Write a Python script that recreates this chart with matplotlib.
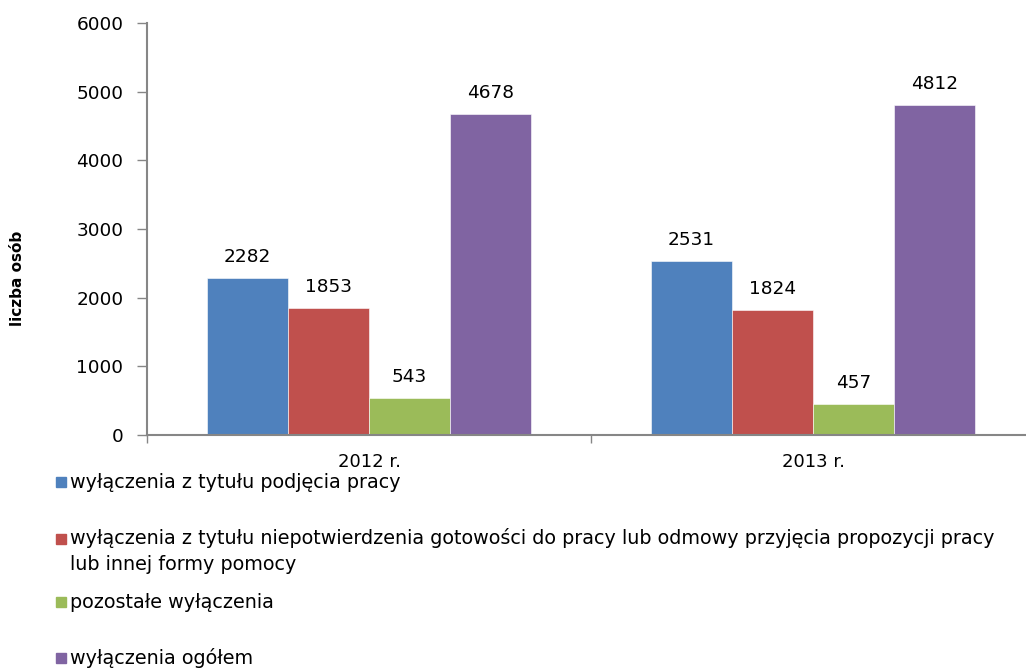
import matplotlib
matplotlib.use("Agg")
import matplotlib.pyplot as plt
from matplotlib.patches import Rectangle
import numpy as np

# data
years = ["2012 r.", "2013 r."]
series_names = [
    "wyłączenia z tytułu podjęcia pracy",
    "wyłączenia z tytułu niepotwierdzenia gotowości do pracy lub odmowy przyjęcia propozycji pracy\nlub innej formy pomocy",
    "pozostałe wyłączenia",
    "wyłączenia ogółem",
]
podjecie = [2282, 2531]
niepotwierdzenie = [1853, 1824]
pozostale = [543, 457]
ogolem = [4678, 4812]
yticks = [0, 1000, 2000, 3000, 4000, 5000, 6000]

colors = ["#4F81BD", "#C0504D", "#9BBB59", "#8064A2"]
values = [podjecie, niepotwierdzenie, pozostale, ogolem]

fig = plt.figure(figsize=(10.26, 6.68), dpi=100)
W, H = 1026, 668
ax = fig.add_axes([147 / W, (H - 435) / H, (1035 - 147) / W, (435 - 23) / H])

x = np.arange(len(years))
bw = 81 / 444
for i, (vals, col) in enumerate(zip(values, colors)):
    pos = x + (i - 1.5) * bw
    bars = ax.bar(pos, vals, width=bw, color=col, edgecolor="white", linewidth=0.4, zorder=2)
    for b, v in zip(bars, vals):
        ax.annotate(str(v), (b.get_x() + b.get_width() / 2, v), xytext=(0, 15),
                    textcoords="offset points", ha="center", va="center",
                    fontsize=13.3, color="#000000")

ax.set_xlim(-0.5, 1.5)
ax.set_ylim(0, 6000)
ax.set_yticks(yticks)
ax.set_yticklabels([str(t) for t in yticks], fontsize=13.3)
ax.tick_params(axis="y", length=7, width=1, color="#868686", pad=10)

# category separators on x axis
ax.set_xticks([-0.5, 0.5, 1.5])
ax.set_xticklabels([])
ax.tick_params(axis="x", direction="out", length=6, width=1, color="#868686")
for xi, lab in zip(x, years):
    ax.text(xi, -0.066, lab, transform=ax.get_xaxis_transform(), ha="center", va="center",
            fontsize=13)

for s in ["top", "right"]:
    ax.spines[s].set_visible(False)
for s in ["left", "bottom"]:
    ax.spines[s].set_color("#868686")
    ax.spines[s].set_linewidth(1.5)
ax.spines["bottom"].set_zorder(3)

fig.text(18 / W, (H - 278) / H, "liczba osób", rotation=90, ha="center", va="center",
         fontsize=11, fontweight="bold")

# legend entries, placed one by one
legend_y = [482, 551, 602, 658]
for name, col, yy in zip(series_names, colors, legend_y):
    n_lines = name.count("\n") + 1
    top = yy - 12.5 * (n_lines - 1)
    fig.patches.append(Rectangle((56 / W, (H - top - 5) / H), 10 / W, 10 / H,
                                 transform=fig.transFigure, color=col))
    fig.text(70 / W, (H - yy) / H, name, ha="left", va="center", fontsize=13.8,
             linespacing=1.4)

fig.savefig("out.png", dpi=100)
